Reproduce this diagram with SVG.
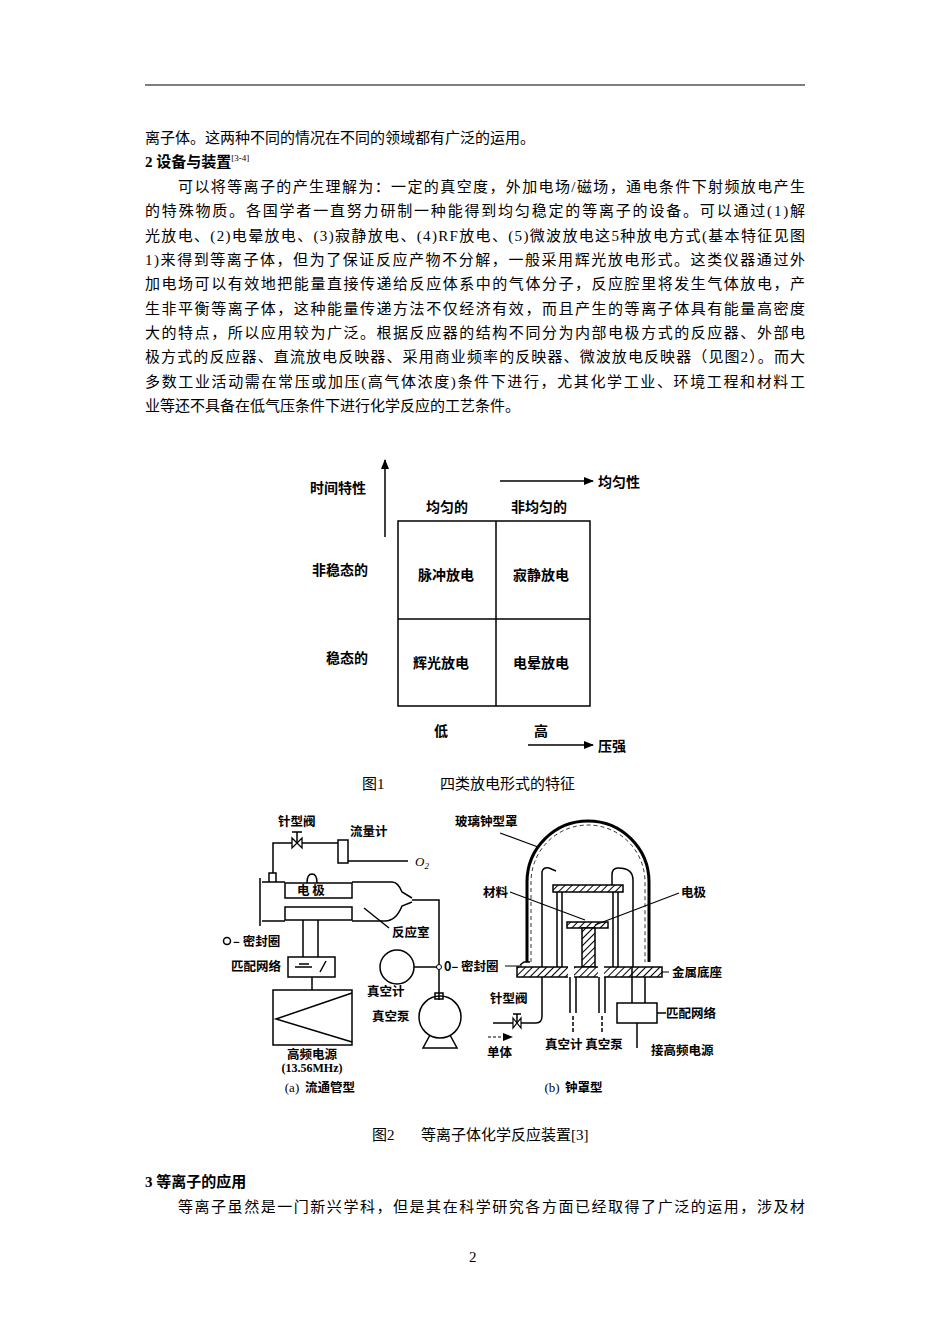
<svg xmlns="http://www.w3.org/2000/svg" width="950" height="1344" viewBox="0 0 950 1344">
<style>
.t{font-family:"Liberation Serif","Noto Sans CJK SC",serif;font-size:15px;fill:#000}
.b{font-family:"Noto Sans CJK SC",sans-serif;font-size:14px;font-weight:bold;fill:#000}
.s{font-family:"Noto Sans CJK SC",sans-serif;font-size:12.5px;font-weight:bold;fill:#000}
.l{fill:none;stroke:#000;stroke-width:1.5}
.h{fill:url(#hat);stroke:#000;stroke-width:1.5}
</style>
<defs>
<marker id="ar" markerWidth="10" markerHeight="8" refX="9" refY="4" orient="auto" markerUnits="userSpaceOnUse"><path d="M0,0 L10,4 L0,8 Z" fill="#000"/></marker>
<pattern id="hat" width="5" height="5" patternUnits="userSpaceOnUse" patternTransform="rotate(45)"><rect width="5" height="5" fill="#fff"/><line x1="0" y1="0" x2="0" y2="5" stroke="#000" stroke-width="2"/></pattern>
</defs>
<rect width="950" height="1344" fill="#fff"/>
<line x1="145" y1="85" x2="805" y2="85" stroke="#000" stroke-width="1.2"/>
<g id="body">
<text class="t" x="145" y="143">离子体。这两种不同的情况在不同的领域都有广泛的运用。</text>
<text class="t" x="145" y="167" font-weight="bold">2 设备与装置<tspan font-size="9" dy="-6" font-weight="normal">[3-4]</tspan></text>
<text class="t" x="178" y="192" textLength="627">可以将等离子的产生理解为：一定的真空度，外加电场/磁场，通电条件下射频放电产生</text>
<text class="t" x="145" y="216" textLength="660">的特殊物质。各国学者一直努力研制一种能得到均匀稳定的等离子的设备。可以通过(1)解</text>
<text class="t" x="145" y="241" textLength="660">光放电、(2)电晕放电、(3)寂静放电、(4)RF放电、(5)微波放电这5种放电方式(基本特征见图</text>
<text class="t" x="145" y="265" textLength="660">1)来得到等离子体，但为了保证反应产物不分解，一般采用辉光放电形式。这类仪器通过外</text>
<text class="t" x="145" y="289" textLength="660">加电场可以有效地把能量直接传递给反应体系中的气体分子，反应腔里将发生气体放电，产</text>
<text class="t" x="145" y="314" textLength="660">生非平衡等离子体，这种能量传递方法不仅经济有效，而且产生的等离子体具有能量高密度</text>
<text class="t" x="145" y="338" textLength="660">大的特点，所以应用较为广泛。根据反应器的结构不同分为内部电极方式的反应器、外部电</text>
<text class="t" x="145" y="362" textLength="660">极方式的反应器、直流放电反映器、采用商业频率的反映器、微波放电反映器（见图2）。而大</text>
<text class="t" x="145" y="387" textLength="660">多数工业活动需在常压或加压(高气体浓度)条件下进行，尤其化学工业、环境工程和材料工</text>
<text class="t" x="145" y="411">业等还不具备在低气压条件下进行化学反应的工艺条件。</text>
<text class="t" x="145" y="1187" font-weight="bold">3 等离子的应用</text>
<text class="t" x="178" y="1212" textLength="627">等离子虽然是一门新兴学科，但是其在科学研究各方面已经取得了广泛的运用，涉及材</text>
<text class="t" x="469" y="1262">2</text>
</g>
<g id="fig1">
<rect x="398" y="521" width="192" height="185" class="l"/>
<line x1="496" y1="521" x2="496" y2="706" class="l"/>
<line x1="398" y1="619" x2="590" y2="619" class="l"/>
<line x1="385" y1="537" x2="385" y2="460" class="l" marker-end="url(#ar)"/>
<line x1="500" y1="481" x2="593" y2="481" class="l" marker-end="url(#ar)"/>
<line x1="528" y1="745" x2="593" y2="745" class="l" marker-end="url(#ar)"/>
<text class="b" x="310" y="493">时间特性</text>
<text class="b" x="598" y="487">均匀性</text>
<text class="b" x="426" y="512">均匀的</text>
<text class="b" x="511" y="512">非均匀的</text>
<text class="b" x="312" y="575">非稳态的</text>
<text class="b" x="326" y="663">稳态的</text>
<text class="b" x="418" y="580">脉冲放电</text>
<text class="b" x="513" y="580">寂静放电</text>
<text class="b" x="413" y="668">辉光放电</text>
<text class="b" x="513" y="668">电晕放电</text>
<text class="b" x="434" y="736">低</text>
<text class="b" x="534" y="736">高</text>
<text class="b" x="598" y="751">压强</text>
<text class="t" x="362" y="789">图1</text>
<text class="t" x="440" y="789">四类放电形式的特征</text>
</g>
<g id="fig2a">
<text class="s" x="278" y="826">针型阀</text>
<text class="s" x="350" y="836">流量计</text>
<path class="l" d="M273,873 V843 H292 M302,843 H338 M348,861 H408"/>
<path d="M292,838 L302,848 L302,838 L292,848 Z" fill="#fff" stroke="#000" stroke-width="1.3"/>
<path class="l" d="M297,843 V832 M292,832 H302"/>
<rect x="338" y="840" width="10" height="23" fill="#fff" stroke="#000" stroke-width="1.5"/>
<text x="415" y="866" font-family="Liberation Serif,serif" font-style="italic" font-size="13">O<tspan font-size="9" dy="3">2</tspan></text>
<path class="l" d="M260,878 V926 M262,882 H285 M352,882 H392 Q398,882 402,892 L412,898 M262,921 H285 M352,921 H385 Q396,921 402,906 L412,902"/>
<path class="l" d="M269,882 V873 H276 V882"/>
<path class="l" d="M307,883 Q307,874 312,874 Q317,874 317,883"/>
<rect x="285" y="883" width="67" height="15" fill="#fff" stroke="#000" stroke-width="1.5"/>
<rect x="285" y="907" width="67" height="13" fill="#fff" stroke="#000" stroke-width="1.5"/>
<text class="s" x="297" y="895">电 极</text>
<path class="l" d="M412,900 H439 V1000"/>
<circle cx="439" cy="967" r="2.5" fill="#fff" stroke="#000"/>
<path class="l" d="M364,908 L389,928"/>
<text class="s" x="392" y="937">反应室</text>
<circle cx="397" cy="967" r="17" class="l"/>
<line x1="414" y1="967" x2="437" y2="967" class="l"/>
<text class="s" x="444" y="971">0– 密封圈</text>
<line x1="505" y1="966" x2="522" y2="966" stroke="#000"/>
<text class="s" x="367" y="996">真空计</text>
<text class="s" x="372" y="1021">真空泵</text>
<rect x="435" y="993" width="8" height="6" class="l"/>
<circle cx="440" cy="1017" r="21" class="l"/>
<path class="l" d="M430,1035 L423,1048 H457 L450,1035"/>
<circle cx="227" cy="941" r="3.5" class="l"/>
<text class="s" x="233" y="946">– 密封圈</text>
<path class="l" d="M303,920 V957 M318,920 V957"/>
<text class="s" x="231" y="971">匹配网络</text>
<rect x="288" y="957" width="47" height="20" fill="#fff" stroke="#000" stroke-width="1.5"/>
<path class="l" d="M295,967 H312 M320,972 L326,961 M299,964 H309"/>
<line x1="312" y1="977" x2="312" y2="990" class="l"/>
<rect x="273" y="990" width="79" height="55" class="l"/>
<path class="l" d="M352,993 L276,1019 L352,1042"/>
<text class="s" x="287" y="1059">高频电源</text>
<text x="312" y="1072" text-anchor="middle" font-family="Liberation Serif,serif" font-size="12" font-weight="bold">(13.56MHz)</text>
<text x="292" y="1092" text-anchor="middle" font-family="Liberation Serif,serif" font-size="13">(a)</text>
<text class="s" x="305" y="1092">流通管型</text>
</g>
<g id="fig2b">
<path d="M527,962 V882 A61,61 0 0 1 649,882 V962" fill="none" stroke="#000" stroke-width="3"/>
<path d="M531,962 V882 A57,57 0 0 1 645,882 V962" fill="none" stroke="#000" stroke-width="0.8" stroke-dasharray="4,3"/>
<text class="s" x="455" y="826">玻璃钟型罩</text>
<line x1="500" y1="833" x2="538" y2="847" stroke="#000" stroke-width="1.2"/>
<path class="l" d="M542,1016 V872 Q543,867 549,868 L556,871" stroke-width="2.5"/>
<path class="l" d="M542,1016 Q542,1023 536,1023 H521 M513,1023 H493"/>
<path d="M513,1018 L521,1028 L521,1018 L513,1028 Z" fill="#fff" stroke="#000" stroke-width="1.2"/>
<path class="l" d="M517,1023 V1014 M513,1014 H521"/>
<text class="s" x="490" y="1003">针型阀</text>
<line x1="488" y1="1037" x2="512" y2="1037" stroke="#000" stroke-width="1" stroke-dasharray="3,2" marker-end="url(#ar)"/>
<text class="s" x="487" y="1057">单体</text>
<rect x="553" y="885" width="70" height="7" class="h"/>
<path class="l" d="M557,892 V967 M562,892 V967 M613,892 V967 M618,892 V967"/>
<path class="l" d="M612,885 V875 Q612,868 618,868 Q633,868 633,880 V967"/>
<rect x="567" y="922" width="41" height="6" class="h"/>
<rect x="582" y="928" width="13" height="39" class="h"/>
<path d="M520,965 L524,962 H530" class="l"/>
<rect x="517" y="967" width="145" height="10" class="h"/>
<rect x="568" y="966" width="6" height="12" fill="#fff"/>
<rect x="598" y="966" width="6" height="12" fill="#fff"/>
<path class="l" d="M570,977 V1013 M576,977 V1013 M599,977 V1013 M605,977 V1013"/>
<line x1="573" y1="1016" x2="573" y2="1034" stroke="#000" stroke-width="1.5" stroke-dasharray="4,2"/>
<line x1="602" y1="1016" x2="602" y2="1034" stroke="#000" stroke-width="1.5" stroke-dasharray="4,2"/>
<path class="l" d="M632,967 V1003 M645,977 V1003"/>
<path class="l" d="M617,1003 H657 V1023 H617 Z"/>
<path class="l" d="M657,1013 H666"/>
<text class="s" x="666" y="1018">匹配网络</text>
<path class="l" d="M637,1023 V1048"/>
<text class="s" x="651" y="1055">接高频电源</text>
<text class="s" x="545" y="1049">真空计 真空泵</text>
<text class="s" x="483" y="897">材料</text>
<line x1="510" y1="892" x2="585" y2="920" stroke="#000" stroke-width="1.2"/>
<text class="s" x="681" y="897">电极</text>
<line x1="679" y1="893" x2="595" y2="925" stroke="#000" stroke-width="1.2"/>
<text class="s" x="672" y="977">金属底座</text>
<line x1="662" y1="972" x2="669" y2="972" stroke="#000"/>
<text x="552" y="1092" text-anchor="middle" font-family="Liberation Serif,serif" font-size="13">(b)</text>
<text class="s" x="565" y="1092">钟罩型</text>
<text class="t" x="372" y="1140">图2</text>
<text class="t" x="421" y="1140">等离子体化学反应装置[3]</text>
</g>
</svg>
